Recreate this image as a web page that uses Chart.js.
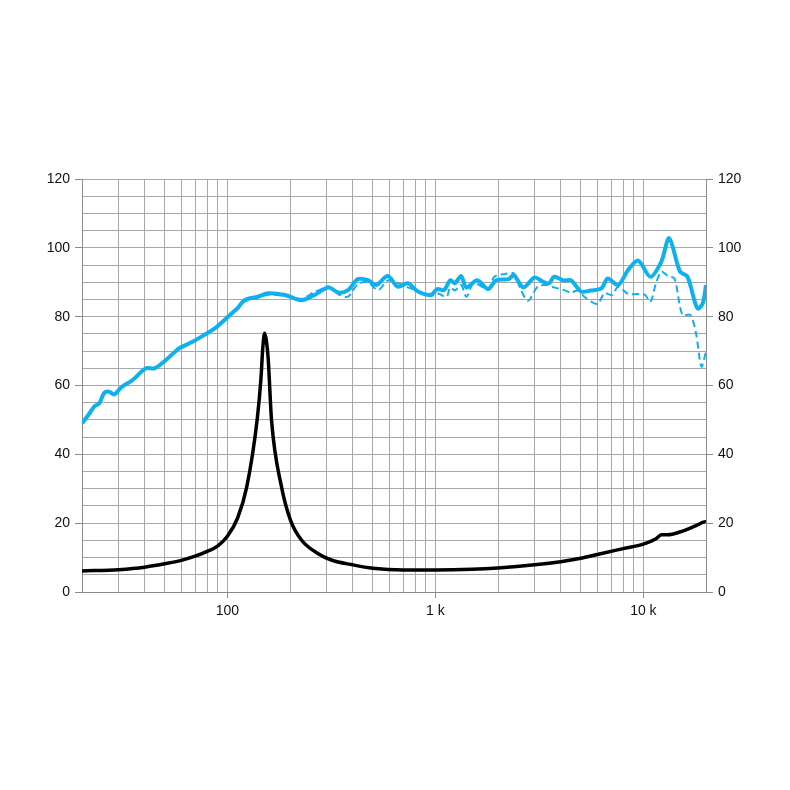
<!DOCTYPE html>
<html>
<head>
<meta charset="utf-8">
<script src="https://cdn.jsdelivr.net/npm/chart.js@4.4.1/dist/chart.umd.min.js"></script>
<style>
html,body{margin:0;padding:0;background:#fff;}
canvas{display:block;}
</style>
</head>
<body>
<canvas id="c" width="790" height="790"></canvas>
<script>
// ---- Data ----
const impFreq = [20,30,40,50,60,70,80,90,100,112,124,139,145,148,151,154,157,163,182,201,227,272,316,400,500,700,1000,1500,2000,3000,4000,5000,6300,8000,10000,11500,12200,13100,15100,17800,19800,20000];
const impVals = [6.1,6.5,7.2,8.2,9.2,10.4,11.8,13.4,16.2,21.5,30.6,50,62,71,75.2,73,68,50,30.6,20.9,15.1,11.2,9.3,7.9,6.9,6.4,6.4,6.6,7.0,7.9,8.8,9.8,11.2,12.6,13.9,15.5,16.6,16.6,17.5,19.2,20.4,20.2];

const splFreq = [20,21.5,23,24.2,25.6,27,28.6,30.9,35,40.6,44.6,50.6,58.6,68,78.9,88.3,98.6,111.5,120.8,140,157,189,227,262,306,342,380,424,474,520,590,660,737,825,950,1020,1100,1180,1240,1330,1410,1590,1790,1960,2250,2380,2650,3000,3280,3520,3720,4160,4480,5020,5570,6280,6740,7560,8450,9440,10800,12200,13300,15000,16200,16800,18200,19300,20000];
const splVals = [49,51.5,54,54.8,57.9,58.2,57.4,59.5,61.6,65,65,67.4,70.8,72.7,75,76.9,79.5,82.4,84.8,85.8,86.8,86.3,84.8,86.3,88.5,87,87.7,90.9,90.6,89.2,91.8,88.7,89.7,87.3,86.3,88,87.7,90.6,89.7,91.8,88.5,90.6,88,90.6,90.9,92.1,88.5,91.4,90.2,89.7,91.6,90.5,90.6,87.3,87.6,88.2,91.1,89.2,93.6,96.3,91.6,96,102.8,93.1,91.8,89.2,82.4,83.9,89.2];

const offFreq = [20,21.5,23,24.2,25.6,27,28.6,30.9,35,40.6,44.6,50.6,58.6,68,78.9,88.3,98.6,111.5,120.8,140,157,189,227,262,290,306,342,380,424,474,530,590,660,737,825,950,1020,1130,1180,1240,1330,1410,1530,1790,1920,2160,2380,2580,2790,3100,3400,3720,4160,4480,4850,5200,6000,6500,7070,7560,8450,9440,10200,10800,11500,12200,13100,14100,15400,16800,17900,19000,20000];
const offVals = [49,51.4,53.8,54.6,57.6,58,57.3,59.3,61.4,64.8,64.9,67.2,70.6,72.5,74.8,76.7,79.2,82.1,84.4,85.5,86.4,86,85.2,87.2,88.2,88.8,86.5,85.8,89.5,90,87.7,90.5,89.8,88.5,87.5,86,86.8,85.8,88.5,87.6,89.2,85.8,89.7,88,91.6,92.4,92.6,87.7,84.6,88.7,89.2,88.5,87.7,87,87.6,85.8,83.7,86.8,86.3,88.7,86.6,86.6,86.3,84.3,89.7,93.1,91.8,91.1,80.5,80.5,75.2,65.5,69.8];

const xGridValues = [20,30,40,50,60,70,80,90,100,200,300,400,500,600,700,800,900,1000,2000,3000,4000,5000,6000,7000,8000,9000,10000,20000];
const xTickLabels = {100:'100', 1000:'1 k', 10000:'10 k'};
const yTickLabels = [0,20,40,60,80,100,120];

const toXY = (fs, vs) => fs.map((f,i)=>({x:f, y:vs[i]}));

const BLUE = '#0fb0ee';
const GRID = '#a8a8a8';
const AXIS = '#8c8c8c';
const FONT = {family:'"Liberation Sans", Arial, sans-serif', size:14};

new Chart(document.getElementById('c'), {
  type: 'line',
  data: {
    datasets: [
      {data: toXY(offFreq, offVals), borderColor: BLUE, borderWidth: 2, borderDash:[7,4], pointRadius:0, tension:0.3, fill:false, yAxisID:'y'},
      {data: toXY(splFreq, splVals), borderColor: BLUE, borderWidth: 4, pointRadius:0, tension:0.3, fill:false, yAxisID:'y'},
      {data: toXY(impFreq, impVals), borderColor: '#000', borderWidth: 3.5, pointRadius:0, cubicInterpolationMode:'monotone', fill:false, yAxisID:'y'}
    ]
  },
  options: {
    responsive: false,
    animation: false,
    layout: {padding: {top: 179, left: 0, right: 0, bottom: 0}},
    plugins: {legend: {display:false}, tooltip: {enabled:false}},
    scales: {
      x: {
        type: 'logarithmic', min: 20, max: 20000,
        afterBuildTicks: s => { s.ticks = xGridValues.map(v => ({value: v})); },
        afterFit: s => { s.height = 198; },
        ticks: {autoSkip:false, maxRotation:0, padding:5, color:'#111', font:FONT,
          callback: v => (xTickLabels[v] !== undefined ? xTickLabels[v] : '')},
        grid: {color: GRID, lineWidth:1, tickLength:6,
          tickColor: ctx => (ctx.tick && xTickLabels[ctx.tick.value] !== undefined) ? AXIS : 'rgba(0,0,0,0)'},
        border: {color: AXIS}
      },
      y: {
        position:'left', min:0, max:120,
        afterBuildTicks: s => { const t=[]; for (let v=0; v<=120; v+=5) t.push({value:v}); s.ticks = t; },
        afterFit: s => { s.width = 82; },
        ticks: {autoSkip:false, padding:5, color:'#111', font:FONT,
          callback: v => (yTickLabels.includes(v) ? String(v) : '')},
        grid: {color: GRID, lineWidth:1, tickLength:7,
          tickColor: ctx => (ctx.tick && yTickLabels.includes(ctx.tick.value)) ? AXIS : 'rgba(0,0,0,0)'},
        border: {color: AXIS}
      },
      y2: {
        position:'right', min:0, max:120,
        afterBuildTicks: s => { s.ticks = yTickLabels.map(v => ({value:v})); },
        afterFit: s => { s.width = 84; },
        ticks: {autoSkip:false, padding:5, color:'#111', font:FONT, callback: v => String(v)},
        grid: {drawOnChartArea:false, tickLength:7, tickColor: AXIS, color: AXIS},
        border: {color: AXIS}
      }
    }
  }
});
</script>
</body>
</html>
